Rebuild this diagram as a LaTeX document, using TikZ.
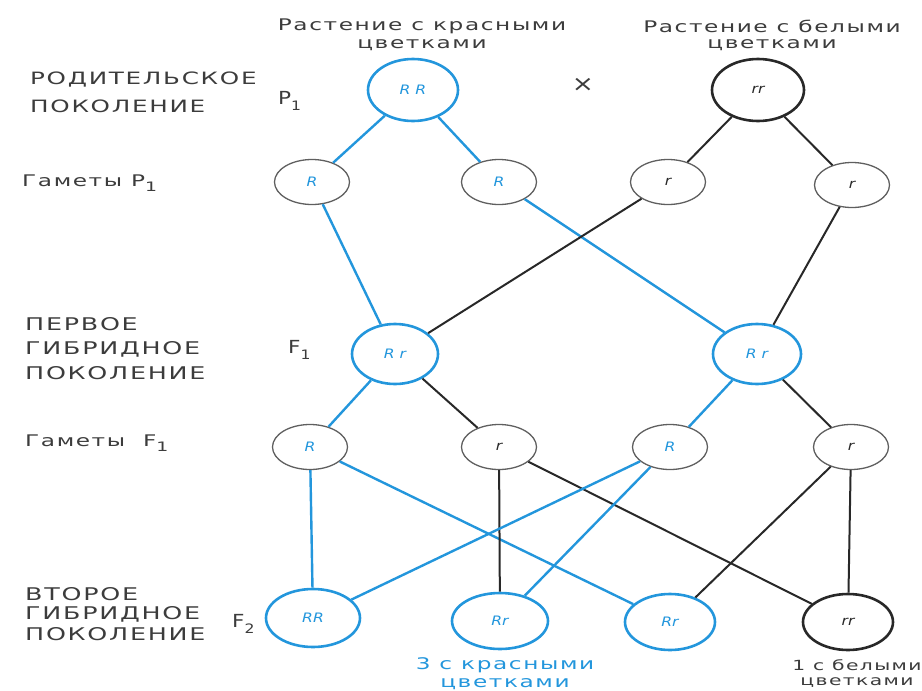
\documentclass[tikz,border=0pt]{standalone}
\usepackage{fontspec}
\usetikzlibrary{shapes.geometric}
\newfontfamily\lab[FakeStretch=1.45,LetterSpace=10]{DejaVu Sans}
\newfontfamily\inn[FakeStretch=1.2]{DejaVu Sans}
\definecolor{gblue}{RGB}{35,150,220}
\definecolor{txt}{RGB}{60,60,60}
\definecolor{ink}{RGB}{40,40,40}
\definecolor{gcirc}{RGB}{95,95,95}
\begin{document}
\begin{tikzpicture}[x=1pt,y=-1pt,
  big/.style={ellipse, draw=gblue, line width=2.6pt, inner sep=0pt,
    minimum width=90pt, minimum height=62pt,
    font=\inn\itshape\fontsize{13}{15}\selectfont, text=gblue},
  bigk/.style={big, draw=ink, text=ink},
  gam/.style={ellipse, draw=gcirc, line width=1.3pt, inner sep=0pt,
    minimum width=75pt, minimum height=45pt,
    font=\inn\itshape\fontsize{13}{15}\selectfont, text=gblue},
  gamk/.style={gam, text=ink},
  bl/.style={draw=gblue, line width=2.4pt},
  bk/.style={draw=ink, line width=2pt},
  caplab/.style={anchor=west, font=\lab\fontsize{17.5}{20}\selectfont, text=txt, inner sep=0pt},
  hd/.style={font=\lab\fontsize{16}{18}\selectfont, text=txt, inner sep=0pt},
  sym/.style={anchor=west, font=\inn\fontsize{18}{20}\selectfont, text=txt, inner sep=0pt}
]
\useasboundingbox (0,0) rectangle (922,691);

% headers
\node[hd] (h1a) at (422,26) {Растение с красными};
\node[hd] (h1b) at (422,45) {цветками};
\node[hd] (h2a) at (772,26) {Растение с белыми};
\node[hd] (h2b) at (772,45) {цветками};
\node[font=\inn\fontsize{22}{22}\selectfont, text=txt] (cross) at (583,85) {×};

% left labels
\node[caplab, font=\lab\fontsize{17}{20}\selectfont] (l1a) at (30,80) {РОДИТЕЛЬСКОЕ};
\node[caplab, font=\lab\fontsize{17}{20}\selectfont] (l1b) at (30,106) {ПОКОЛЕНИЕ};
\node[sym] (p1) at (278,101) {P\raisebox{-6pt}{\fontsize{13}{13}\selectfont 1}};
\node[caplab, font=\lab\fontsize{16}{18}\selectfont] (l2) at (22,183) {Гаметы P\raisebox{-5pt}{\fontsize{13}{13}\selectfont 1}};
\node[caplab] (l3a) at (25,324) {ПЕРВОЕ};
\node[caplab] (l3b) at (25,349) {ГИБРИДНОЕ};
\node[caplab] (l3c) at (25,373) {ПОКОЛЕНИЕ};
\node[sym] (f1) at (288,350) {F\raisebox{-6pt}{\fontsize{13}{13}\selectfont 1}};
\node[caplab, font=\lab\fontsize{16}{18}\selectfont] (l4) at (25,443) {Гаметы\ \ F\raisebox{-5pt}{\fontsize{13}{13}\selectfont 1}};
\node[caplab] (l5a) at (25,594) {ВТОРОЕ};
\node[caplab] (l5b) at (25,614) {ГИБРИДНОЕ};
\node[caplab] (l5c) at (25,634) {ПОКОЛЕНИЕ};
\node[sym] (f2) at (232,624) {F\raisebox{-6pt}{\fontsize{13}{13}\selectfont 2}};

% parents
\node[big] (RR) at (413,90) {R R};
\node[bigk, minimum width=92pt] (rr) at (758,90) {rr};

% gametes P1
\node[gam] (g1) at (312,182) {R};
\node[gam] (g2) at (499,182) {R};
\node[gamk] (g3) at (668,182) {r};
\node[gamk] (g4) at (852,185) {r};

% F1
\node[big, minimum width=86pt, minimum height=60pt] (F1a) at (395,354) {R r};
\node[big, minimum width=88pt, minimum height=60pt] (F1b) at (757,354) {R r};

% gametes F1
\node[gam] (k1) at (310,447) {R};
\node[gamk] (k2) at (499,447) {r};
\node[gam] (k3) at (670,447) {R};
\node[gamk] (k4) at (851,447) {r};

% F2
\node[big, minimum width=94pt, minimum height=58pt] (s1) at (313,618) {RR};
\node[big, minimum width=96pt, minimum height=56pt] (s2) at (500,621) {Rr};
\node[big, minimum width=90pt, minimum height=56pt] (s3) at (670,622) {Rr};
\node[bigk, minimum width=90pt, minimum height=56pt] (s4) at (848,622) {rr};

% bottom labels
\node[hd, text=gblue] (b1a) at (505,665) {3 с красными};
\node[hd, text=gblue] (b1b) at (505,684) {цветками};
\node[hd, font=\lab\fontsize{14}{16}\selectfont] (b2a) at (857,665) {1 с белыми};
\node[hd, font=\lab\fontsize{14}{16}\selectfont] (b2b) at (857,683) {цветками};

% connectors
\draw[bl] (RR) -- (g1);
\draw[bl] (RR) -- (g2);
\draw[bk] (rr) -- (g3);
\draw[bk] (rr) -- (g4);
\draw[bl] (g1) -- (F1a);
\draw[bl] (g2) -- (F1b);
\draw[bk] (g3) -- (F1a);
\draw[bk] (g4) -- (F1b);
\draw[bl] (F1a) -- (k1);
\draw[bk] (F1a) -- (k2);
\draw[bl] (F1b) -- (k3);
\draw[bk] (F1b) -- (k4);
\draw[bl] (k1) -- (s1);
\draw[bl] (k1) -- (s3);
\draw[bk] (k2) -- (s2);
\draw[bk] (k2) -- (s4);
\draw[bl] (k3) -- (s1);
\draw[bl] (k3) -- (s2);
\draw[bk] (k4) -- (s3);
\draw[bk] (k4) -- (s4);
\end{tikzpicture}
\end{document}
